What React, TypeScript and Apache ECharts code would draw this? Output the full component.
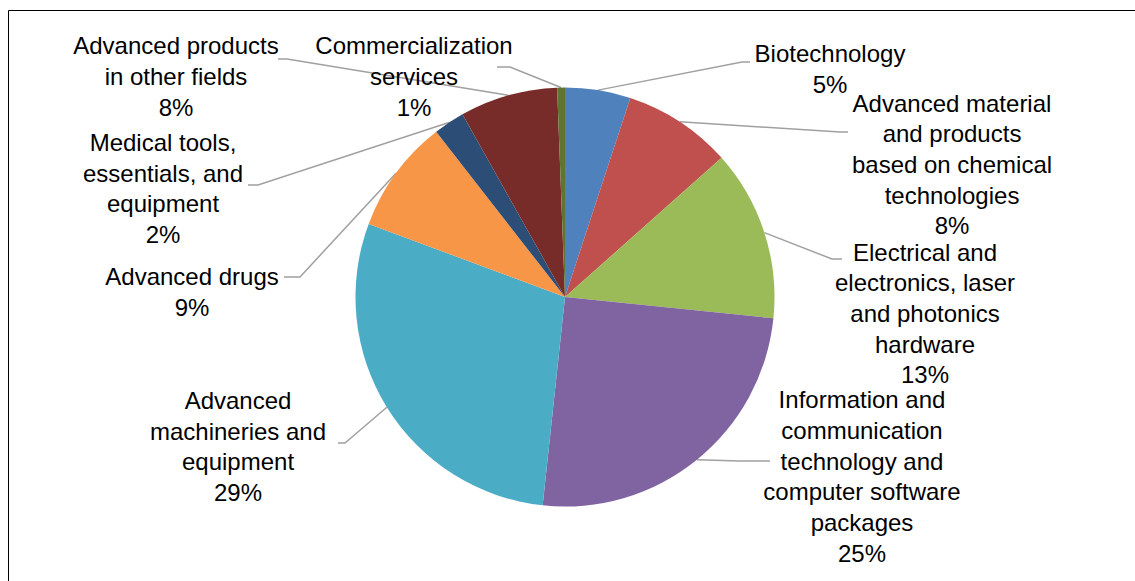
import React, { useEffect, useRef } from "react";
import * as echarts from "echarts";

// ---- data ----
const categories: string[] = [
  "Biotechnology",
  "Advanced material\nand products\nbased on chemical\ntechnologies",
  "Electrical and\nelectronics, laser\nand photonics\nhardware",
  "Information and\ncommunication\ntechnology and\ncomputer software\npackages",
  "Advanced\nmachineries and\nequipment",
  "Advanced drugs",
  "Medical tools,\nessentials, and\nequipment",
  "Advanced products\nin other fields",
  "Commercialization\nservices",
];
const shares: number[] = [5.05, 8.4, 13.2, 25.1, 29.0, 8.8, 2.4, 7.55, 0.6];
const colors: string[] = [
  "#4F81BD",
  "#C0504D",
  "#9BBB59",
  "#8064A2",
  "#4BACC6",
  "#F79646",
  "#2C4D75",
  "#772C2A",
  "#5F7530",
];

// ---- label layout (positions only) ----
// cx, cy: centre of the text block; bend / end: leader line points
const labelPos: { cx: number; cy: number; bend: number[]; end: number[] }[] = [
  { cx: 830, cy: 69, bend: [742, 62], end: [750, 62] },
  { cx: 952, cy: 164.5, bend: [840, 132], end: [848, 132] },
  { cx: 925, cy: 313.5, bend: [832, 259], end: [842, 259] },
  { cx: 862, cy: 476.5, bend: [740, 461], end: [770, 461] },
  { cx: 238, cy: 446.5, bend: [345, 443], end: [338, 443] },
  { cx: 192, cy: 292, bend: [300, 277], end: [284, 277] },
  { cx: 163, cy: 188.5, bend: [258, 185], end: [248, 185] },
  { cx: 176, cy: 76.5, bend: [287, 59], end: [278, 59] },
  { cx: 414, cy: 76.5, bend: [510, 67], end: [497, 67] },
];

const CX = 565;
const CY = 297;
const R = 209.5;

export default function App() {
  const ref = useRef<HTMLDivElement>(null);
  useEffect(() => {
    if (!ref.current) return;
    const chart = echarts.init(ref.current, null, { renderer: "svg" });
    const total = shares.reduce((a, b) => a + b, 0);
    const cum: number[] = [];
    let acc = 0;
    shares.forEach((v) => {
      cum.push(acc + v / 2);
      acc += v;
    });
    chart.setOption({
      animation: false,
      backgroundColor: "#ffffff",
      graphic: [
        {
          type: "rect",
          shape: { x: 8.5, y: 10.5, width: 1200, height: 700 },
          style: { fill: "none", stroke: "#000000", lineWidth: 1 },
          silent: true,
          z: -1,
        },
      ],
      series: [
        {
          type: "pie",
          center: [CX, CY],
          radius: R,
          startAngle: 90,
          clockwise: true,
          avoidLabelOverlap: false,
          itemStyle: { borderWidth: 0 },
          label: {
            show: true,
            position: "outside",
            color: "#000000",
            fontFamily: "'Liberation Sans', Arial, sans-serif",
            fontSize: 24,
            lineHeight: 30.7,
            align: "center",
            formatter: (p: any) => `${p.name}\n${Math.round(p.percent)}%`,
          },
          labelLine: {
            show: true,
            length: 20,
            length2: 10,
            lineStyle: { color: "#A0A0A0", width: 1.5 },
          },
          labelLayout: (p: any) => {
            const lp = labelPos[p.dataIndex];
            let start = p.labelLinePoints && p.labelLinePoints[0];
            if (!start) {
              const ang = (cum[p.dataIndex] / total) * Math.PI * 2;
              start = [CX + R * Math.sin(ang), CY - R * Math.cos(ang)];
            }
            return {
              x: lp.cx,
              y: lp.cy,
              align: "center",
              verticalAlign: "middle",
              labelLinePoints: [start, lp.bend, lp.end],
            };
          },
          data: categories.map((name, i) => ({
            name,
            value: shares[i],
            itemStyle: { color: colors[i] },
          })),
        },
      ],
    });
    return () => chart.dispose();
  }, []);
  return (
    <div
      ref={ref}
      style={{ position: "fixed", left: 0, top: 0, width: 1135, height: 581 }}
    />
  );
}
